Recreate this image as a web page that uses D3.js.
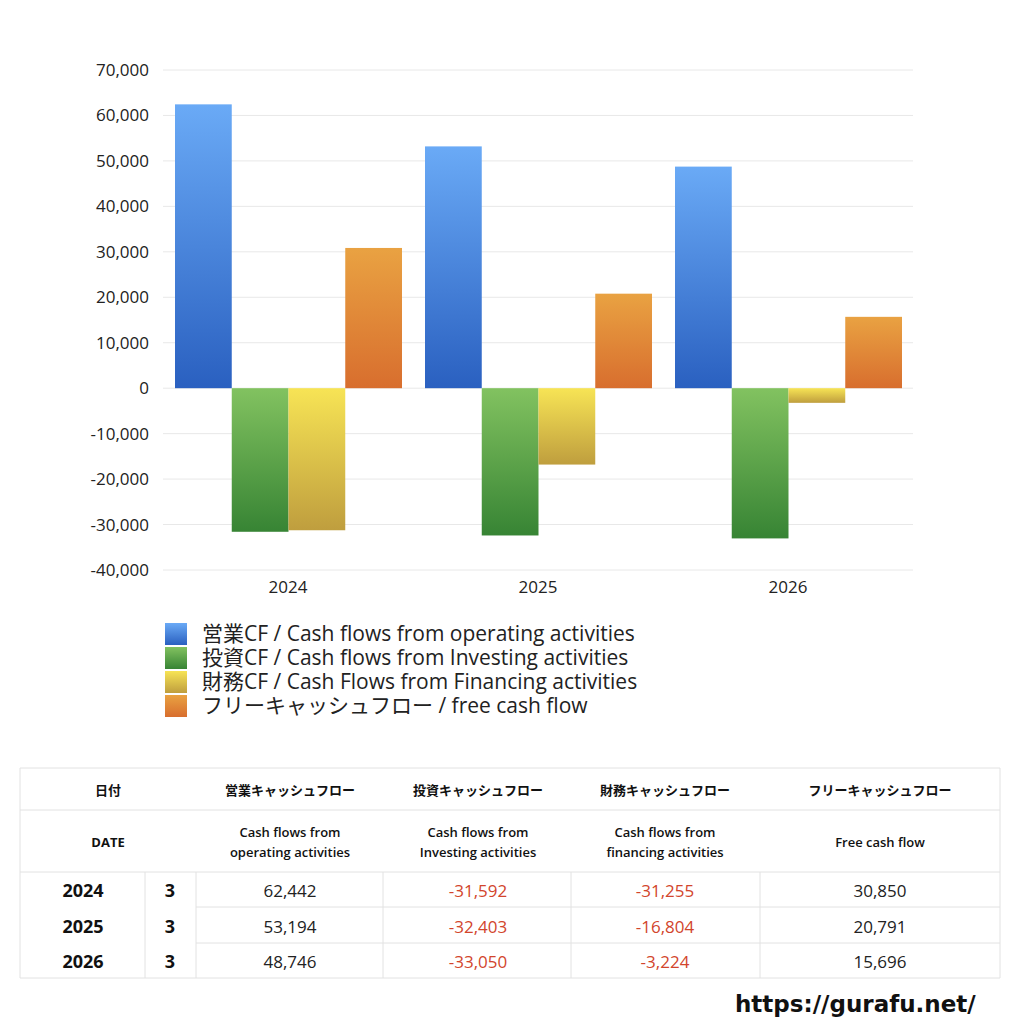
<!DOCTYPE html><html><head><meta charset="utf-8"><script src="https://cdn.jsdelivr.net/npm/d3@7"></script>
<style>body{margin:0;background:#fff;font-family:"Open Sans","Noto Sans CJK JP",sans-serif}</style></head><body><svg id="c" width="1024" height="1024"></svg><script>
const years=["2024","2025","2026"];
const seriesNames=["営業CF / Cash flows from operating activities","投資CF / Cash flows from Investing activities","財務CF / Cash Flows from Financing activities","フリーキャッシュフロー / free cash flow"];
const operating=[62442,53194,48746];
const investing=[-31592,-32403,-33050];
const financing=[-31255,-16804,-3224];
const freeCF=[30850,20791,15696];
const ticks=[70000,60000,50000,40000,30000,20000,10000,0,-10000,-20000,-30000,-40000];
const colors=[["#6aaaf6","#2a60c0"],["#82c260","#378434"],["#f7e455","#bf9e3e"],["#e9a242","#d86e2e"]];
const fmt=d3.formatLocale({decimal:".",thousands:",",grouping:[3],currency:["",""],minus:"-"}).format(",");
const svg=d3.select("#c");
const defs=svg.append("defs");
colors.forEach((c,i)=>{const g=defs.append("linearGradient").attr("id","g"+i).attr("x1",0).attr("x2",0).attr("y1",0).attr("y2",1);
g.append("stop").attr("offset","0%").attr("stop-color",c[0]);g.append("stop").attr("offset","100%").attr("stop-color",c[1]);});
const y=d3.scaleLinear().domain([-40000,70000]).range([570,70]);
const x=d3.scaleBand().domain(years).range([163,913]);
const xs=d3.scaleBand().domain([0,1,2,3]).range([12,x.bandwidth()-11]);
ticks.forEach(t=>{svg.append("line").attr("x1",163).attr("x2",913).attr("y1",y(t)).attr("y2",y(t)).attr("stroke","#e8e8e8");
svg.append("text").attr("x",149).attr("y",y(t)+6).attr("text-anchor","end").attr("font-size",17).attr("fill","#222").text(fmt(t));});
const data=[operating,investing,financing,freeCF];
data.forEach((s,i)=>s.forEach((v,j)=>{svg.append("rect").attr("x",x(years[j])+xs(i)).attr("width",xs.bandwidth())
.attr("y",y(Math.max(0,v))).attr("height",Math.abs(y(v)-y(0))).attr("fill",`url(#g${i})`);}));
years.forEach(yr=>svg.append("text").attr("x",x(yr)+x.bandwidth()/2).attr("y",593).attr("text-anchor","middle").attr("font-size",17).attr("fill","#222").text(yr));
seriesNames.forEach((n,i)=>{const yy=634+i*24;svg.append("rect").attr("x",165).attr("y",yy-11).attr("width",22).attr("height",22).attr("fill",`url(#g${i})`);
svg.append("text").attr("x",202).attr("y",yy+7).attr("font-size",21).attr("fill","#222").text(n);});
const T=svg.append("g");const L="#e2e2e2";
const hl=(x1,x2,yy)=>T.append("line").attr("x1",x1).attr("x2",x2).attr("y1",yy).attr("y2",yy).attr("stroke",L);
const vl=(xx,y1,y2)=>T.append("line").attr("x1",xx).attr("x2",xx).attr("y1",y1).attr("y2",y2).attr("stroke",L);
hl(20,1000,768);hl(20,1000,810);hl(20,1000,872);hl(196,1000,907);hl(196,1000,943);hl(20,1000,978);
vl(20,768,978);vl(1000,768,978);[145,196,383,571,760].forEach(v=>vl(v,872,978));
const cx=[290,478,665,880];
const tx=(xx,yy,s,o)=>T.append("text").attr("x",xx).attr("y",yy).attr("text-anchor","middle").attr("font-size",o.fs||13).attr("font-weight",o.fw||"normal").attr("fill",o.c||"#111").text(s);
tx(108,795,"日付",{fw:"bold"});
["営業キャッシュフロー","投資キャッシュフロー","財務キャッシュフロー","フリーキャッシュフロー"].forEach((s,i)=>tx(cx[i],795,s,{fw:"bold"}));
tx(108,847,"DATE",{fw:"bold"});
[["Cash flows from","operating activities"],["Cash flows from","Investing activities"],["Cash flows from","financing activities"]].forEach((s,i)=>{tx(cx[i],837,s[0],{fw:"600"});tx(cx[i],857,s[1],{fw:"600"});});
tx(cx[3],847,"Free cash flow",{fw:"600"});
years.forEach((yr,j)=>{const yy=897+j*35.5;tx(83,yy,yr,{fs:18,fw:"bold"});tx(170,yy,"3",{fs:18,fw:"bold"});
data.forEach((s,i)=>tx(cx[i],yy,fmt(s[j]),{fs:17,c:s[j]<0?"#d2452c":"#222"}));});
svg.append("text").attr("x",735).attr("y",1012).attr("font-size",23).attr("font-weight","bold").attr("fill","#111").attr("font-family","DejaVu Sans").text("https://gurafu.net/");
</script></body></html>
